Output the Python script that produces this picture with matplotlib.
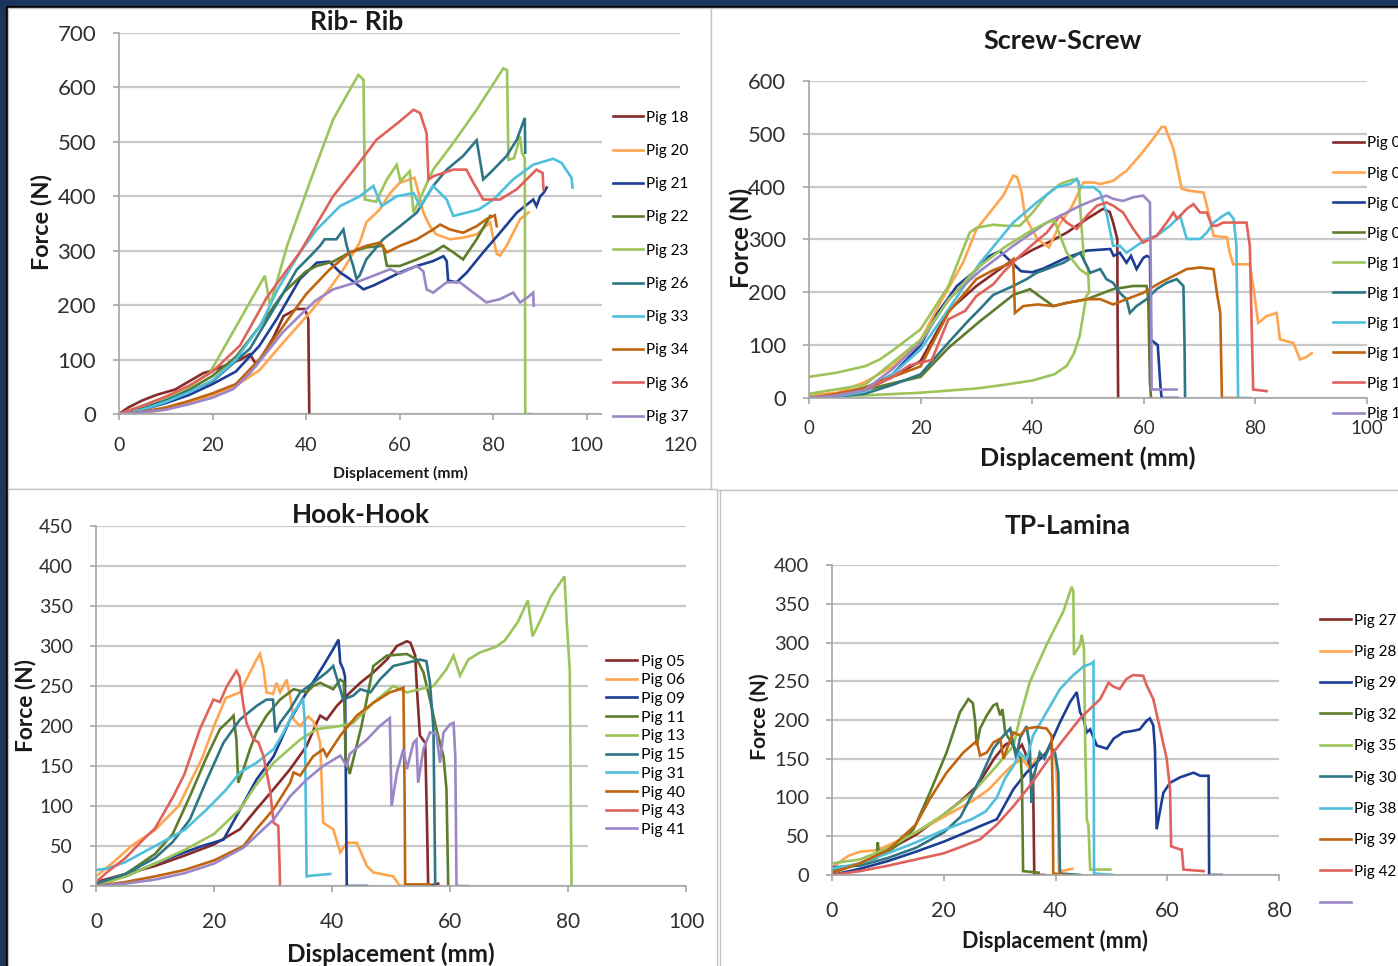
import matplotlib
matplotlib.use("Agg")
import matplotlib.pyplot as plt
from matplotlib.patches import Rectangle

plt.rcParams['font.family'] = ['Lato', 'DejaVu Sans']

W, H = 1398, 966

# ---------------- data: Rib-Rib ----------------
rib_labels = ['Pig 18', 'Pig 20', 'Pig 21', 'Pig 22', 'Pig 23', 'Pig 26', 'Pig 33', 'Pig 34', 'Pig 36', 'Pig 37']
rib_x_18 = [0, 2, 5, 8, 12, 15, 18, 20, 23, 26, 28, 29.4, 30.5, 33, 35.2, 38, 39.8, 40.5, 40.7]
rib_y_18 = [0, 12, 25, 35, 45, 60, 75, 80, 90, 100, 110, 90, 105, 140, 180, 193, 193, 174, 0]
rib_x_20 = [0, 5, 10, 15, 20, 25, 30, 35, 40.9, 45, 48, 51.5, 52.9, 55.8, 58, 60.1, 62.2, 63.2, 63.7, 65.1, 66.5, 67.9, 70.8, 73.6, 76.5, 79.4, 80.1, 80.8, 81.5, 82.9, 85.8, 87.6]
rib_y_20 = [0, 2, 8, 20, 35, 52, 80, 130, 187, 230, 266, 315, 352, 376, 406, 425, 431, 434, 419, 370, 345, 330, 321, 324, 330, 352, 321, 294, 291, 309, 358, 370]
rib_x_21 = [0, 5, 10, 15, 20, 25, 30, 33.7, 38.7, 42.3, 45, 47.3, 49.4, 52.3, 54.4, 57.3, 60.1, 63.7, 67.2, 69.4, 70.1, 70.4, 72.2, 74.4, 77.9, 81.5, 85.1, 88.6, 89.3, 90.1, 90.8, 91.5]
rib_y_21 = [0, 8, 20, 35, 55, 78, 125, 174, 248, 278, 280, 260, 248, 229, 236, 248, 260, 272, 281, 290, 281, 245, 242, 260, 297, 333, 370, 394, 382, 400, 406, 416]
rib_x_22 = [0, 5, 10, 15, 20, 25, 30, 35.2, 40, 42.3, 45.8, 49.4, 52.9, 56.5, 57.3, 60.1, 63.7, 67.2, 69.4, 71.5, 73.6, 76.5, 79.4]
rib_y_22 = [0, 10, 25, 45, 70, 105, 160, 223, 262, 272, 280, 297, 306, 309, 272, 272, 284, 297, 309, 297, 284, 321, 364]
rib_x_23 = [0, 5, 10, 15, 19.5, 25, 31.2, 32.3, 36, 41, 45.8, 49, 51.2, 52.3, 52.6, 55, 57.3, 59.4, 60.2, 62.2, 63, 67.2, 71.5, 76.5, 82.2, 83, 83.3, 84.5, 85.8, 86.2, 86.8, 86.9, 88]
rib_y_23 = [0, 15, 30, 50, 77, 160, 254, 199, 310, 430, 541, 590, 623, 614, 394, 390, 431, 458, 428, 446, 370, 449, 498, 559, 635, 632, 467, 470, 510, 480, 470, 0, 0]
rib_x_26 = [0, 5, 10, 15, 20, 24, 28, 31.5, 35.2, 38, 40.9, 43, 44, 46.5, 48, 48.7, 50.1, 50.8, 51.5, 52.9, 56.5, 60.1, 63.7, 67.2, 70.1, 73.6, 76.5, 77.9, 79.4, 82.9, 85.1, 86.8, 86.9]
rib_y_26 = [0, 10, 25, 42, 60, 90, 120, 170, 223, 265, 290, 309, 321, 321, 339, 309, 272, 248, 255, 284, 321, 345, 370, 419, 449, 474, 503, 431, 443, 474, 504, 544, 480]
rib_x_33 = [0, 5, 10, 15, 20, 25, 30.2, 34, 38.7, 42.3, 47.3, 51.5, 54.4, 56.2, 59.4, 63, 64.4, 67.2, 70.1, 71.5, 74.4, 77, 80.1, 84.3, 88.6, 92.9, 94.7, 96.8, 97]
rib_y_33 = [0, 8, 22, 40, 62, 100, 162, 230, 297, 339, 382, 400, 419, 382, 400, 406, 382, 419, 394, 364, 370, 376, 394, 431, 458, 469, 461, 434, 416]
rib_x_34 = [0, 5, 10, 15, 20, 25, 30, 35, 40, 45, 49.4, 52.9, 55.8, 57.3, 60.1, 63.7, 67.2, 68.7, 70.8, 73.6, 76.5, 78.6, 80.4, 80.8]
rib_y_34 = [0, 4, 12, 24, 38, 55, 100, 160, 220, 265, 297, 309, 315, 297, 309, 321, 339, 348, 339, 333, 345, 358, 365, 345]
rib_x_36 = [0, 5, 10, 15, 20, 25.9, 31.6, 38.7, 45.8, 50.8, 55.1, 60.1, 63, 64.4, 65.8, 66.2, 67.3, 71.5, 74.3, 75.8, 77.9, 81.5, 85.1, 89.3, 90.6, 90.8]
rib_y_36 = [0, 15, 32, 52, 78, 126, 214, 297, 400, 455, 504, 538, 559, 553, 516, 431, 437, 449, 449, 425, 394, 394, 413, 449, 443, 413]
rib_x_37 = [0, 5, 10, 15, 20, 24.5, 28, 31.6, 35, 38.7, 42, 45.8, 50.8, 54.4, 58, 60.1, 63.7, 65.1, 65.8, 67.2, 70.1, 72.9, 75.8, 78.6, 81.5, 84.3, 85.8, 87.5, 88.6, 88.7]
rib_y_37 = [0, 3, 8, 18, 30, 46, 75, 113, 150, 181, 208, 229, 242, 254, 266, 258, 272, 262, 229, 223, 242, 242, 223, 205, 211, 223, 205, 215, 223, 199]

# ---------------- data: Screw-Screw ----------------
screw_labels = ['Pig 01', 'Pig 02', 'Pig 03', 'Pig 04', 'Pig 10', 'Pig 12', 'Pig 14', 'Pig 16', 'Pig 17', 'Pig 19']
scr_x_a = [0, 5, 10, 15, 20, 25, 30, 35, 40, 43, 46.2, 49.8, 52.7, 53.9, 54.5, 55.25, 55.3, 55.4]
scr_y_a = [0, 5, 15, 40, 70, 165, 212, 250, 280, 295, 313, 339, 358, 352, 332, 301, 150, 0]
scr_x_b = [0, 5, 10, 15, 20, 23.5, 27.6, 30, 32.4, 34.8, 36.6, 37.3, 38.1, 38.7, 39.3, 41, 43, 45, 47, 49.2, 51, 52.2, 54.5, 55.7, 56.9, 59.3, 61.7, 63.2, 63.8, 65.3, 66.8, 68.3, 70.7, 71.6, 72.5, 74.9, 75.4, 76, 79, 79.6, 80.5, 82, 83.8, 84.4, 86.8, 88, 89.2, 90.1]
scr_y_b = [5, 10, 30, 60, 110, 180, 256, 319, 351, 383, 421, 418, 389, 345, 332, 300, 285, 330, 360, 408, 408, 405, 411, 421, 430, 459, 491, 513, 513, 472, 396, 392, 389, 351, 307, 304, 275, 253, 253, 212, 142, 155, 161, 111, 104, 73, 78, 85]
scr_x_c = [0, 5, 10, 15, 20, 23, 26.5, 29.4, 32.4, 34.2, 35.5, 37, 38, 40, 42, 46, 49.8, 54, 54.6, 55.7, 56.9, 57.7, 58.7, 59.9, 60.5, 61.1, 61.3, 62.5, 63, 63.2, 66]
scr_y_c = [0, 5, 15, 45, 100, 160, 212, 237, 269, 278, 265, 250, 240, 238, 245, 265, 279, 282, 269, 275, 256, 269, 244, 265, 269, 266, 110, 100, 20, 0, 0]
scr_x_d = [0, 5, 10, 15, 20, 25, 30.6, 36.6, 39.6, 41, 43.8, 46.2, 49.8, 54.5, 58.1, 60.5, 60.8, 61.1, 61.3]
scr_y_d = [0, 3, 15, 28, 40, 95, 145, 195, 206, 195, 174, 180, 187, 206, 212, 212, 187, 30, 0]
scr_x_e = [0, 5, 10, 12.7, 15, 20, 25, 28.8, 30, 33, 35, 37.8, 40, 42.6, 45, 47.4, 48.3, 48.8, 49.3, 50, 50.2, 49.7, 48.5, 47.5, 46.2, 44, 40, 35, 30, 20, 10, 0]
scr_y_e = [40, 48, 60, 73, 90, 130, 212, 313, 322, 328, 326, 326, 350, 385, 405, 414, 410, 330, 260, 245, 200, 193, 117, 85, 61, 45, 33, 25, 18, 10, 5, 3]
scr_x_e2 = [0, 10, 20, 25, 30, 35, 40, 42.6, 44, 45, 46.2, 48.5, 49.7]
scr_y_e2 = [8, 25, 110, 185, 245, 285, 318, 332, 336, 307, 275, 244, 235]
scr_x_f = [0, 5, 10, 15, 20, 25, 28.8, 30.6, 33, 36.6, 39, 40.8, 42.6, 45.6, 48.6, 50.4, 52.2, 53.3, 54.5, 55.7, 56.9, 57.5, 58.7, 60.5, 62.3, 64.1, 65.9, 67.1, 67.3, 67.4]
scr_y_f = [0, 3, 8, 25, 45, 105, 149, 168, 195, 212, 225, 237, 244, 256, 275, 237, 244, 225, 218, 199, 187, 161, 174, 187, 206, 218, 225, 212, 100, 0]
scr_x_g = [0, 5, 10, 15, 20, 25, 30.6, 36.6, 40.8, 44.4, 46.8, 48, 48.6, 51, 52.2, 53.3, 54.5, 55.7, 56.9, 58.7, 60.5, 62.3, 64.7, 66.5, 67.7, 70.1, 71.3, 72.5, 74.2, 75.2, 76.1, 76.6, 76.9, 79]
scr_y_g = [0, 3, 12, 45, 92, 168, 255, 332, 370, 399, 405, 415, 399, 399, 389, 351, 288, 288, 275, 288, 301, 307, 326, 345, 301, 301, 313, 332, 345, 351, 339, 288, 0, 0]
scr_x_h = [0, 5, 10, 15, 20, 25, 30, 33, 35, 36.6, 36.9, 38.4, 41, 43.8, 46.2, 49.8, 52.2, 54.5, 56.9, 59.9, 62.9, 65.3, 67.7, 70.1, 72.5, 73.1, 73.7, 74, 76.6]
scr_y_h = [0, 8, 20, 40, 60, 162, 225, 242, 250, 263, 161, 174, 177, 174, 180, 187, 187, 177, 187, 199, 218, 231, 244, 247, 244, 199, 161, 0, 0]
scr_x_i = [0, 5, 10, 15, 18, 22, 25, 28, 30, 33, 35, 37.8, 40, 42.6, 45, 46.2, 48, 49.8, 51.6, 53.3, 54.5, 56.3, 58.1, 59.9, 62.3, 64.1, 65.3, 66, 67.7, 68.9, 70.1, 71.3, 72.2, 73.1, 74.2, 77.2, 78.4, 79, 79.6, 82]
scr_y_i = [0, 5, 15, 40, 62, 72, 149, 165, 193, 215, 240, 269, 290, 313, 345, 332, 320, 345, 364, 370, 364, 351, 320, 294, 307, 332, 351, 339, 358, 367, 351, 351, 326, 326, 332, 332, 332, 288, 16, 13]
scr_x_j = [0, 5, 10, 15, 20, 25, 30.6, 36.6, 42.6, 48.6, 51.6, 53.3, 54.5, 56.3, 58.1, 59.9, 61.1, 61.3, 61.4, 63.2, 65.9]
scr_y_j = [0, 5, 15, 55, 105, 187, 240, 288, 332, 364, 377, 383, 377, 373, 380, 383, 370, 200, 16, 16, 16]

# ---------------- data: Hook-Hook ----------------
hook_labels = ['Pig 05', 'Pig 06', 'Pig 09', 'Pig 11', 'Pig 13', 'Pig 15', 'Pig 31', 'Pig 40', 'Pig 43', 'Pig 41']
hk_x_05 = [0, 5, 10, 15, 20, 24.4, 27.2, 30.1, 32.9, 35.7, 37.4, 38, 39.1, 40.8, 42.5, 44.8, 47, 49.3, 51, 52.7, 53.3, 54.1, 54.4, 54.9, 55.8, 56.1, 56.3, 58]
hk_y_05 = [5, 15, 25, 38, 52, 71, 96, 121, 146, 175, 204, 213, 208, 225, 238, 254, 267, 283, 300, 306, 304, 288, 246, 188, 179, 79, 0, 3]
hk_x_06 = [0, 3, 6, 10, 14, 18, 20, 22, 24.4, 26.1, 27.2, 27.8, 28.4, 28.9, 30, 30.6, 31.2, 32.3, 32.9, 33.5, 34.6, 36, 36.8, 37.4, 38, 38.3, 38.5, 40.2, 41.4, 42.5, 44.2, 45.9, 47, 50.4, 51.5, 53]
hk_y_06 = [12, 30, 50, 70, 100, 160, 200, 235, 242, 267, 283, 290, 271, 242, 240, 254, 242, 258, 237, 208, 200, 212, 206, 196, 179, 121, 79, 71, 42, 54, 54, 25, 17, 12, 0, 0]
hk_x_09 = [0, 5, 10, 15, 18, 21.6, 24, 27.2, 30.1, 32.9, 35.7, 38.5, 40.2, 41.1, 41.4, 41.9, 42.2, 42.5, 45.9]
hk_y_09 = [3, 12, 28, 42, 50, 58, 90, 133, 162, 208, 242, 275, 296, 308, 279, 271, 262, 0, 0]
hk_x_11 = [0, 5, 10, 13, 15.9, 18.8, 21, 22.7, 23.3, 23.8, 24.1, 25, 26.1, 27.2, 28.9, 31.2, 33.5, 35.7, 36.8, 38, 40.2, 41.4, 42, 42.3, 43, 45, 47, 49.3, 52.7, 54.4, 55.5, 56.6, 57.7, 58.9, 59.4, 59.7]
hk_y_11 = [0, 15, 40, 65, 112, 162, 196, 208, 213, 183, 129, 146, 171, 192, 213, 233, 246, 242, 250, 254, 246, 258, 255, 160, 140, 200, 275, 288, 290, 283, 267, 233, 196, 162, 121, 0]
hk_x_13 = [0, 5, 10, 15, 20, 24.4, 27, 30.1, 34.6, 37.4, 41.4, 43.6, 47, 50.4, 52.7, 54.9, 57.2, 59.4, 60.6, 61.7, 63.1, 65.1, 67.8, 69.3, 71.5, 73.2, 74, 75.5, 77.1, 79.4, 79.8, 80.3, 80.6]
hk_y_13 = [0, 12, 28, 45, 65, 96, 125, 154, 183, 196, 200, 204, 229, 250, 242, 246, 250, 271, 288, 263, 283, 292, 299, 307, 330, 357, 312, 335, 362, 387, 328, 270, 0]
hk_x_15 = [0, 5, 10, 13, 15.9, 18.8, 21.6, 24.4, 27.2, 28.9, 30, 30.4, 31.2, 32.9, 34.6, 36.8, 39.1, 40.2, 41.4, 41.9, 43.6, 44.8, 46.5, 48.1, 50.4, 52.7, 54.9, 56, 56.6, 57.2, 57.5]
hk_y_15 = [3, 15, 35, 55, 83, 133, 179, 208, 225, 233, 233, 192, 204, 221, 242, 254, 267, 275, 246, 233, 238, 246, 242, 258, 275, 279, 283, 281, 254, 196, 0]
hk_x_31 = [0, 2, 5, 10, 15, 18.8, 22, 24.4, 27.2, 30.1, 31.8, 33.5, 34.6, 35.1, 35.4, 35.7, 36.5, 39.7]
hk_y_31 = [20, 22, 30, 50, 70, 96, 120, 142, 154, 171, 192, 217, 229, 233, 204, 12, 13, 15]
hk_x_40 = [0, 5, 10, 15, 20, 25, 27.2, 30.1, 32.9, 33.5, 34.6, 36.8, 38.5, 39.1, 41.4, 44.2, 47, 49.8, 51.5, 52.1, 52.3, 52.4, 56.6]
hk_y_40 = [0, 5, 12, 20, 32, 50, 71, 96, 129, 142, 138, 162, 171, 162, 188, 213, 229, 242, 246, 248, 120, 2, 2]
hk_x_43 = [0, 2, 5, 8, 10, 13.1, 15, 17.6, 19.9, 21, 22.2, 23.8, 24.3, 25, 25.5, 26.7, 27.5, 28.4, 29.5, 30.1, 30.9, 31.1, 31.2]
hk_y_43 = [5, 18, 35, 58, 72, 112, 140, 196, 233, 230, 250, 269, 262, 225, 204, 183, 180, 162, 120, 79, 75, 30, 0]
hk_x_41 = [0, 5, 10, 15, 20, 25, 30.1, 32.9, 35.7, 38.5, 41.4, 42.5, 43, 45.9, 48.1, 49.8, 50.1, 51, 52.1, 52.7, 53.8, 54.3, 54.6, 55.5, 56.6, 57.7, 58.3, 58.9, 60, 60.6, 60.9, 61.1, 63]
hk_y_41 = [0, 3, 8, 16, 28, 48, 83, 112, 133, 150, 163, 150, 165, 183, 200, 210, 100, 142, 171, 146, 179, 183, 129, 171, 192, 190, 154, 192, 202, 204, 162, 0, 0]

# ---------------- data: TP-Lamina ----------------
tp_labels = ['Pig 27', 'Pig 28', 'Pig 29', 'Pig 32', 'Pig 35', 'Pig 30', 'Pig 38', 'Pig 39', 'Pig 42', ' ']
tp_x_27 = [0, 5, 10, 15, 20, 23, 26, 29, 31, 32, 33, 34, 35, 36, 36.2, 38]
tp_y_27 = [3, 15, 32, 52, 78, 95, 115, 150, 168, 172, 160, 168, 150, 120, 0, 0]
tp_x_28 = [0, 3, 5, 8, 10, 15, 20, 25, 28, 30, 32, 34, 35.4, 36.6, 38, 39, 40, 40.4, 40.6, 41, 43]
tp_y_28 = [10, 25, 30, 32, 38, 55, 75, 95, 110, 125, 140, 150, 137, 150, 155, 167, 150, 100, 5, 5, 8]
tp_x_29 = [0, 5, 10, 15, 20, 23, 26.5, 29.5, 32.5, 34.8, 38.4, 40.8, 42.6, 43.8, 44.4, 45, 45.6, 46.2, 47.4, 49.2, 50.4, 52.1, 53.9, 55.1, 56.3, 56.9, 57.5, 57.8, 58.1, 59.3, 60.5, 62.3, 64.7, 65.9, 67.4, 67.5, 69.7]
tp_y_29 = [0, 8, 18, 30, 43, 52, 63, 72, 111, 132, 158, 197, 223, 236, 210, 202, 184, 188, 167, 163, 176, 184, 186, 188, 199, 202, 193, 163, 59, 106, 119, 126, 132, 128, 128, 0, 0]
tp_x_32 = [0, 5, 8, 8.2, 8.4, 10, 12, 14.6, 17.5, 20.5, 22.9, 24.4, 25.2, 25.6, 25.9, 26.5, 27.7, 28.9, 29.5, 30.1, 30.5, 31, 32, 33, 33.8, 34, 34.2, 37]
tp_y_32 = [5, 15, 22, 42, 25, 30, 40, 59, 106, 158, 210, 227, 222, 200, 167, 189, 206, 219, 221, 206, 214, 184, 172, 160, 150, 120, 5, 3]
tp_x_35 = [0, 5, 10, 15, 20, 25, 29.5, 32.5, 33.6, 35.4, 38.4, 41.4, 42.9, 43.2, 43.3, 44.4, 44.7, 45.1, 45.3, 45.6, 45.9, 46.2, 49.8]
tp_y_35 = [15, 20, 35, 55, 78, 105, 141, 167, 202, 249, 297, 340, 372, 365, 284, 297, 310, 292, 175, 72, 63, 7, 7]
tp_x_30 = [0, 5, 10, 15, 20, 23, 26.5, 28.9, 30.7, 31.9, 32.5, 33, 33.6, 34.8, 35.4, 35.7, 36, 37.2, 38, 39, 39.9, 40.5, 40.8, 44.4]
tp_y_30 = [10, 12, 22, 35, 55, 75, 124, 163, 180, 189, 167, 150, 176, 192, 167, 93, 124, 158, 150, 167, 158, 132, 2, 0]
tp_x_38 = [0, 5, 10, 15, 20, 25, 27.5, 29.5, 31, 32.5, 33.6, 34.8, 36, 38.4, 40.8, 43.2, 45, 46.5, 46.8, 46.9, 50.4]
tp_y_38 = [8, 15, 28, 42, 58, 72, 82, 100, 125, 141, 158, 149, 180, 210, 240, 258, 269, 273, 275, 2, 0]
tp_x_39 = [0, 5, 10, 15, 17.5, 20.5, 23.5, 25.9, 26.5, 27.7, 28.9, 30.1, 30.7, 31.3, 32.5, 33.6, 34.8, 36.6, 38.4, 39.3, 39.5, 39.6, 42]
tp_y_39 = [3, 15, 32, 65, 98, 132, 158, 173, 154, 158, 171, 176, 150, 163, 184, 180, 189, 191, 189, 180, 100, 2, 0]
tp_x_42 = [0, 5, 10, 15, 20, 23, 26.5, 29.5, 32.5, 35.4, 39.6, 44.4, 48, 49.5, 50.4, 51.5, 52.7, 53.9, 55.7, 56.3, 57.5, 58.7, 59.9, 60.5, 60.7, 62.3, 62.6, 62.9, 66.5]
tp_y_42 = [0, 5, 12, 20, 28, 36, 46, 65, 89, 115, 158, 202, 227, 248, 243, 240, 253, 258, 257, 245, 227, 189, 150, 111, 37, 33, 33, 7, 5]

colors = ['#862a2a', '#ffa54f', '#1c3f94', '#5e7d2c', '#9cc45a',
          '#2e7686', '#4fbfdc', '#c0650f', '#e0625c', '#9b86c6']

rib_series = [(rib_x_18, rib_y_18), (rib_x_20, rib_y_20), (rib_x_21, rib_y_21), (rib_x_22, rib_y_22),
              (rib_x_23, rib_y_23), (rib_x_26, rib_y_26), (rib_x_33, rib_y_33), (rib_x_34, rib_y_34),
              (rib_x_36, rib_y_36), (rib_x_37, rib_y_37)]
screw_series = [(scr_x_a, scr_y_a), (scr_x_b, scr_y_b), (scr_x_c, scr_y_c), (scr_x_d, scr_y_d),
                (scr_x_e, scr_y_e), (scr_x_f, scr_y_f), (scr_x_g, scr_y_g), (scr_x_h, scr_y_h),
                (scr_x_i, scr_y_i), (scr_x_j, scr_y_j)]
hook_series = [(hk_x_05, hk_y_05), (hk_x_06, hk_y_06), (hk_x_09, hk_y_09), (hk_x_11, hk_y_11),
               (hk_x_13, hk_y_13), (hk_x_15, hk_y_15), (hk_x_31, hk_y_31), (hk_x_40, hk_y_40),
               (hk_x_43, hk_y_43), (hk_x_41, hk_y_41)]
tp_series = [(tp_x_27, tp_y_27), (tp_x_28, tp_y_28), (tp_x_29, tp_y_29), (tp_x_32, tp_y_32),
             (tp_x_35, tp_y_35), (tp_x_30, tp_y_30), (tp_x_38, tp_y_38), (tp_x_39, tp_y_39),
             (tp_x_42, tp_y_42), ([], [])]

fig = plt.figure(figsize=(W / 100, H / 100), dpi=100)
fig.patch.set_facecolor('#1b365d')

# white sheet with black edge, then the four chart panels (kept behind the axes)
fig.patches.append(Rectangle((7 / W, -0.01), 1.01, 1 - 7 / H + 0.01, transform=fig.transFigure,
                             facecolor='white', edgecolor='black', linewidth=1.5, zorder=-20))
for (l, t, r, b) in [(8, 8, 711, 489), (711, 8, 1400, 490), (8, 489, 717, 968), (720, 490, 1400, 968)]:
    fig.patches.append(Rectangle((l / W, 1 - b / H), (r - l) / W, (b - t) / H, transform=fig.transFigure,
                                 facecolor='white', edgecolor='#c4c4c4', linewidth=1.0, zorder=-10))


def make_axes(l, t, r, b):
    return fig.add_axes([l / W, 1 - b / H, (r - l) / W, (b - t) / H])


def style(ax, xmax, xstep, ymax, ystep, xfs, yfs, xpad, ypad):
    ax.set_xlim(0, xmax)
    ax.set_ylim(0, ymax)
    ax.set_xticks(range(0, xmax + 1, xstep))
    ax.set_yticks(range(0, ymax + 1, ystep))
    ax.set_facecolor('none')
    for s in ['top', 'right']:
        ax.spines[s].set_visible(False)
    for s in ['left', 'bottom']:
        ax.spines[s].set_color('#a6a6a6')
        ax.spines[s].set_linewidth(1.2)
    ax.yaxis.grid(True, color='#c8c8c8', linewidth=1.6)
    ax.set_axisbelow(True)
    ax.tick_params(axis='x', direction='out', length=4.5, width=1.2, color='#a6a6a6',
                   labelsize=xfs, labelcolor='#303030', pad=xpad)
    ax.tick_params(axis='y', direction='out', length=4.5, width=1.2, color='#a6a6a6',
                   labelsize=yfs, labelcolor='#303030', pad=ypad)


def draw(ax, series, labels):
    for (xs, ys), c, lab in zip(series, colors, labels):
        ax.plot(xs, ys, color=c, linewidth=1.9, label=lab, solid_joinstyle='miter')


def legend(ax, x, y, fs, pad, spacing, covered):
    kw = dict(frameon=True, facecolor='white', edgecolor='none', framealpha=1, fancybox=False) \
        if covered else dict(frameon=False)
    ax.legend(loc='upper left', bbox_to_anchor=(x / W, 1 - y / H), bbox_transform=fig.transFigure,
              fontsize=fs, borderpad=pad, borderaxespad=0, handlelength=2.0, handletextpad=0.2,
              labelspacing=spacing, **kw)


# Rib-Rib
ax1 = make_axes(119, 33, 680, 414)
style(ax1, 120, 20, 700, 100, 14, 16, 12, 12)
draw(ax1, rib_series, rib_labels)
legend(ax1, 602, 100, 11, 0.7, 1.26, True)

# Screw-Screw
ax2 = make_axes(809, 81, 1367, 398)
style(ax2, 100, 20, 600, 100, 13.5, 15.8, 11, 12)
draw(ax2, screw_series, screw_labels)
ax2.plot(scr_x_e2, scr_y_e2, color=colors[4], linewidth=1.9, label='_nolegend_')
legend(ax2, 1333, 136.5, 11, 0, 1.05, False)

# Hook-Hook
ax3 = make_axes(96, 526, 686, 886)
style(ax3, 100, 20, 450, 50, 15, 14, 14, 12)
draw(ax3, hook_series, hook_labels)
legend(ax3, 588, 636.5, 11.3, 1.15, 0.30, True)

# TP-Lamina
ax4 = make_axes(832, 565, 1279, 875)
style(ax4, 80, 20, 400, 50, 15.5, 14.5, 14, 12)
draw(ax4, tp_series, tp_labels)
legend(ax4, 1320, 613.5, 11, 0, 1.14, False)


# titles and axis labels
def ftext(x, y, s, size, rot=0):
    fig.text(x / W, 1 - y / H, s, ha='center', va='center', fontsize=size,
             fontweight='bold', rotation=rot, color='#1a1a1a')


ftext(357, 22, 'Rib- Rib', 19)
ftext(1063, 41, 'Screw-Screw', 19.5)
ftext(361, 515, 'Hook-Hook', 18.8)
ftext(1068, 526, 'TP-Lamina', 19)

ftext(42, 222, 'Force (N)', 16.9, 90)
ftext(741, 238, 'Force (N)', 17.6, 90)
ftext(25, 705, 'Force (N)', 16.4, 90)
ftext(760, 717, 'Force (N)', 15.2, 90)

ftext(400, 473, 'Displacement (mm)', 11.3)
ftext(1088, 458, 'Displacement (mm)', 18.2)
ftext(391, 954, 'Displacement (mm)', 17.5)
ftext(1055, 941, 'Displacement (mm)', 15.6)

fig.savefig('out.png', dpi=100, facecolor=fig.get_facecolor())
